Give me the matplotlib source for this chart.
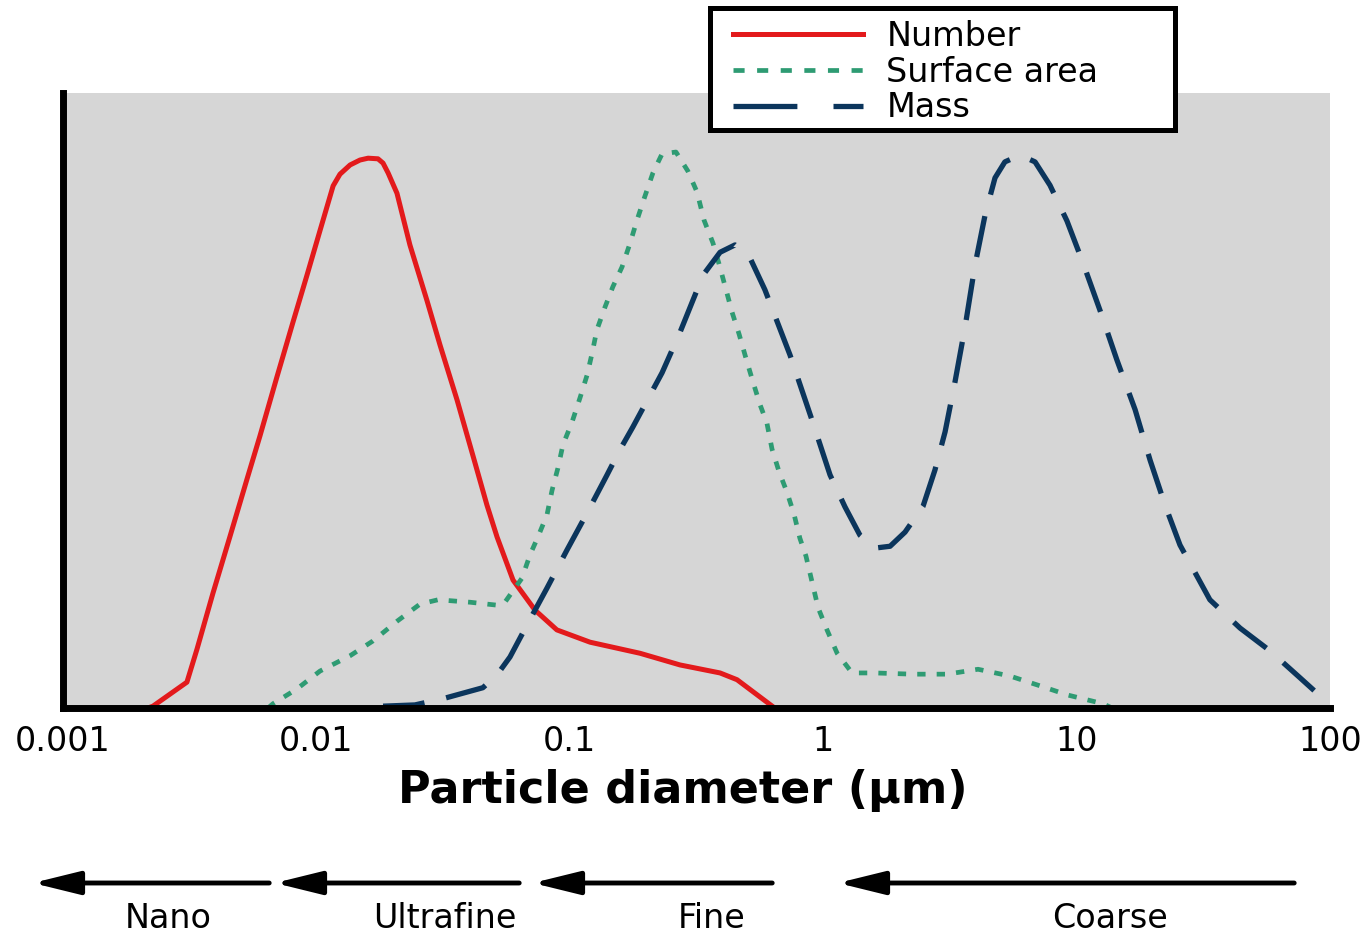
import numpy as np
import matplotlib.pyplot as plt
from matplotlib.ticker import NullLocator
from matplotlib.lines import Line2D
from matplotlib.patches import Rectangle, FancyArrowPatch

plt.rcParams['font.family'] = ['DejaVu Sans']
plt.rcParams['lines.scale_dashes'] = False

# log10 of particle diameter (um) and relative amount (axis top = 100)
number_logd = [-2.665, -2.645, -2.511, -2.471, -2.408, -2.341, -2.274, -2.223, -2.156, -2.092,
               -2.037, -1.986, -1.934, -1.907, -1.867, -1.828, -1.796, -1.757, -1.737, -1.717,
               -1.682, -1.631, -1.564, -1.512, -1.445, -1.382, -1.327, -1.287, -1.224, -1.137,
               -1.051, -0.920, -0.723, -0.565, -0.407, -0.340, -0.198]
number_val = [0.0, 0.3, 4.2, 9.6, 18.7, 27.9, 37.2, 44.2, 53.8, 62.8,
              70.4, 77.6, 84.9, 86.8, 88.3, 89.1, 89.4, 89.3, 88.6, 87.0,
              83.7, 75.3, 66.3, 59.0, 50.1, 41.0, 33.0, 27.8, 20.8, 15.9,
              12.7, 10.7, 8.9, 7.0, 5.7, 4.6, 0.2]

surface_logd = [-2.191, -2.171, -2.077, -1.986, -1.867, -1.777, -1.682, -1.591, -1.520, -1.394,
                -1.283, -1.256, -1.189, -1.157, -1.126, -1.090, -1.070, -1.047, -1.027, -0.991,
                -0.960, -0.932, -0.912, -0.893, -0.861, -0.830, -0.794, -0.762, -0.735, -0.707,
                -0.672, -0.636, -0.581, -0.534, -0.498, -0.470, -0.435, -0.411, -0.384, -0.360,
                -0.332, -0.305, -0.277, -0.249, -0.222, -0.202, -0.174, -0.143, -0.115, -0.092,
                -0.068, -0.044, -0.020, 0.015, 0.055, 0.114, 0.204, 0.354, 0.489, 0.611,
                0.737, 0.856, 0.966, 1.104, 1.140]
surface_val = [0.0, 0.7, 3.1, 6.0, 8.5, 10.9, 14.1, 16.9, 17.6, 17.2,
               16.7, 17.2, 21.1, 24.9, 27.8, 31.4, 35.4, 39.0, 42.8, 46.5,
               50.4, 54.1, 57.7, 61.5, 65.2, 68.5, 71.7, 75.6, 79.3, 82.8,
               87.0, 90.1, 90.4, 87.3, 83.9, 79.3, 75.6, 72.2, 68.1, 64.4,
               60.8, 56.9, 53.0, 49.3, 46.3, 42.1, 38.4, 35.1, 31.5, 27.6,
               24.7, 20.5, 16.3, 12.7, 8.9, 5.7, 5.7, 5.5, 5.5, 6.3,
               5.2, 3.6, 2.1, 0.7, 0.0]

mass_logd = [-1.737, -1.611, -1.493, -1.343, -1.287, -1.236, -1.169, -1.090, -1.011, -0.932,
             -0.853, -0.802, -0.751, -0.636, -0.565, -0.474, -0.407, -0.348, -0.289, -0.230,
             -0.131, -0.044, 0.027, 0.086, 0.145, 0.204, 0.264, 0.323, 0.394, 0.441,
             0.481, 0.520, 0.560, 0.599, 0.639, 0.678, 0.717, 0.777, 0.836, 0.895,
             0.962, 1.025, 1.092, 1.159, 1.231, 1.290, 1.349, 1.408, 1.526, 1.645,
             1.763, 1.882, 2.0]
mass_val = [0.3, 0.5, 1.6, 3.3, 5.4, 8.3, 13.5, 19.5, 25.7, 31.7,
            37.9, 42.0, 45.7, 54.5, 61.1, 70.4, 74.1, 75.3, 73.2, 68.0,
            57.4, 46.8, 37.9, 32.7, 28.1, 26.0, 26.3, 28.6, 32.8, 38.7,
            44.9, 53.0, 62.0, 72.0, 80.2, 86.2, 88.8, 89.9, 88.8, 85.0,
            79.2, 72.4, 64.7, 56.6, 48.5, 40.3, 33.0, 26.5, 17.6, 13.0,
            9.3, 4.9, 0.5]

tick_values = [0.001, 0.01, 0.1, 1, 10, 100]
tick_labels = ['0.001', '0.01', '0.1', '1', '10', '100']
series_names = ['Number', 'Surface area', 'Mass']
size_classes = ['Nano', 'Ultrafine', 'Fine', 'Coarse']

red = '#e31a1c'
green = '#2e9b73'
navy = '#0b355c'

W, H = 1372, 936
fig = plt.figure(figsize=(W / 100, H / 100), dpi=100)
ax = fig.add_axes([63 / W, 1 - 708 / H, (1330 - 63) / W, (708 - 93) / H])
ax.set_facecolor('#d6d6d6')

ax.plot(10 ** np.array(number_logd), number_val, color=red, lw=3.6,
        solid_joinstyle='round')
ax.plot(10 ** np.array(surface_logd), surface_val, color=green, lw=3.4, dashes=(6, 8))
ax.plot(10 ** np.array(mass_logd), mass_val, color=navy, lw=3.8, dashes=(30, 16))

ax.set_xscale('log')
ax.set_xlim(0.001, 100)
ax.set_ylim(0, 100)
ax.set_xticks(tick_values)
ax.set_xticklabels(tick_labels)
ax.xaxis.set_minor_locator(NullLocator())
ax.set_yticks([])
ax.tick_params(axis='x', length=0, pad=12, labelsize=24)
for s in ['top', 'right']:
    ax.spines[s].set_visible(False)
for s in ['left', 'bottom']:
    ax.spines[s].set_linewidth(5)

fig.text(683 / W, 1 - 790 / H, 'Particle diameter (\u00b5m)', fontsize=32,
         fontweight='bold', ha='center', va='center')

# legend: box drawn separately so it matches the wide original frame
box = Rectangle((710 / W, 1 - 130 / H), (1175 - 710) / W, (130 - 8) / H,
                transform=fig.transFigure, facecolor='white', edgecolor='black',
                lw=3.6, zorder=4)
fig.add_artist(box)
handles = [Line2D([], [], color=red, lw=3.6),
           Line2D([], [], color=green, lw=3.4, dashes=(8, 9)),
           Line2D([], [], color=navy, lw=3.8, dashes=(46, 26))]
leg = fig.legend(handles, series_names, loc='upper left',
                 bbox_to_anchor=(733 / W, 1 - 20 / H), borderaxespad=0,
                 fontsize=24, handlelength=3.9, handletextpad=0.7,
                 borderpad=0, labelspacing=0.08, frameon=False)
leg.set_zorder(5)

# size class arrows
arrows = [(272, 30), (522, 272), (775, 530), (1297, 835)]
label_x = [168, 445, 712, 1110]
for (x0, x1), lx, name in zip(arrows, label_x, size_classes):
    fig.add_artist(FancyArrowPatch(
        (x0 / W, 1 - 883 / H), (x1 / W, 1 - 883 / H), transform=fig.transFigure,
        arrowstyle='-|>,head_length=1.3,head_width=0.32', mutation_scale=22,
        lw=3.5, color='black'))
    fig.text(lx / W, 1 - 918 / H, name, fontsize=24, ha='center', va='center')

fig.savefig('out.png', dpi=100)
